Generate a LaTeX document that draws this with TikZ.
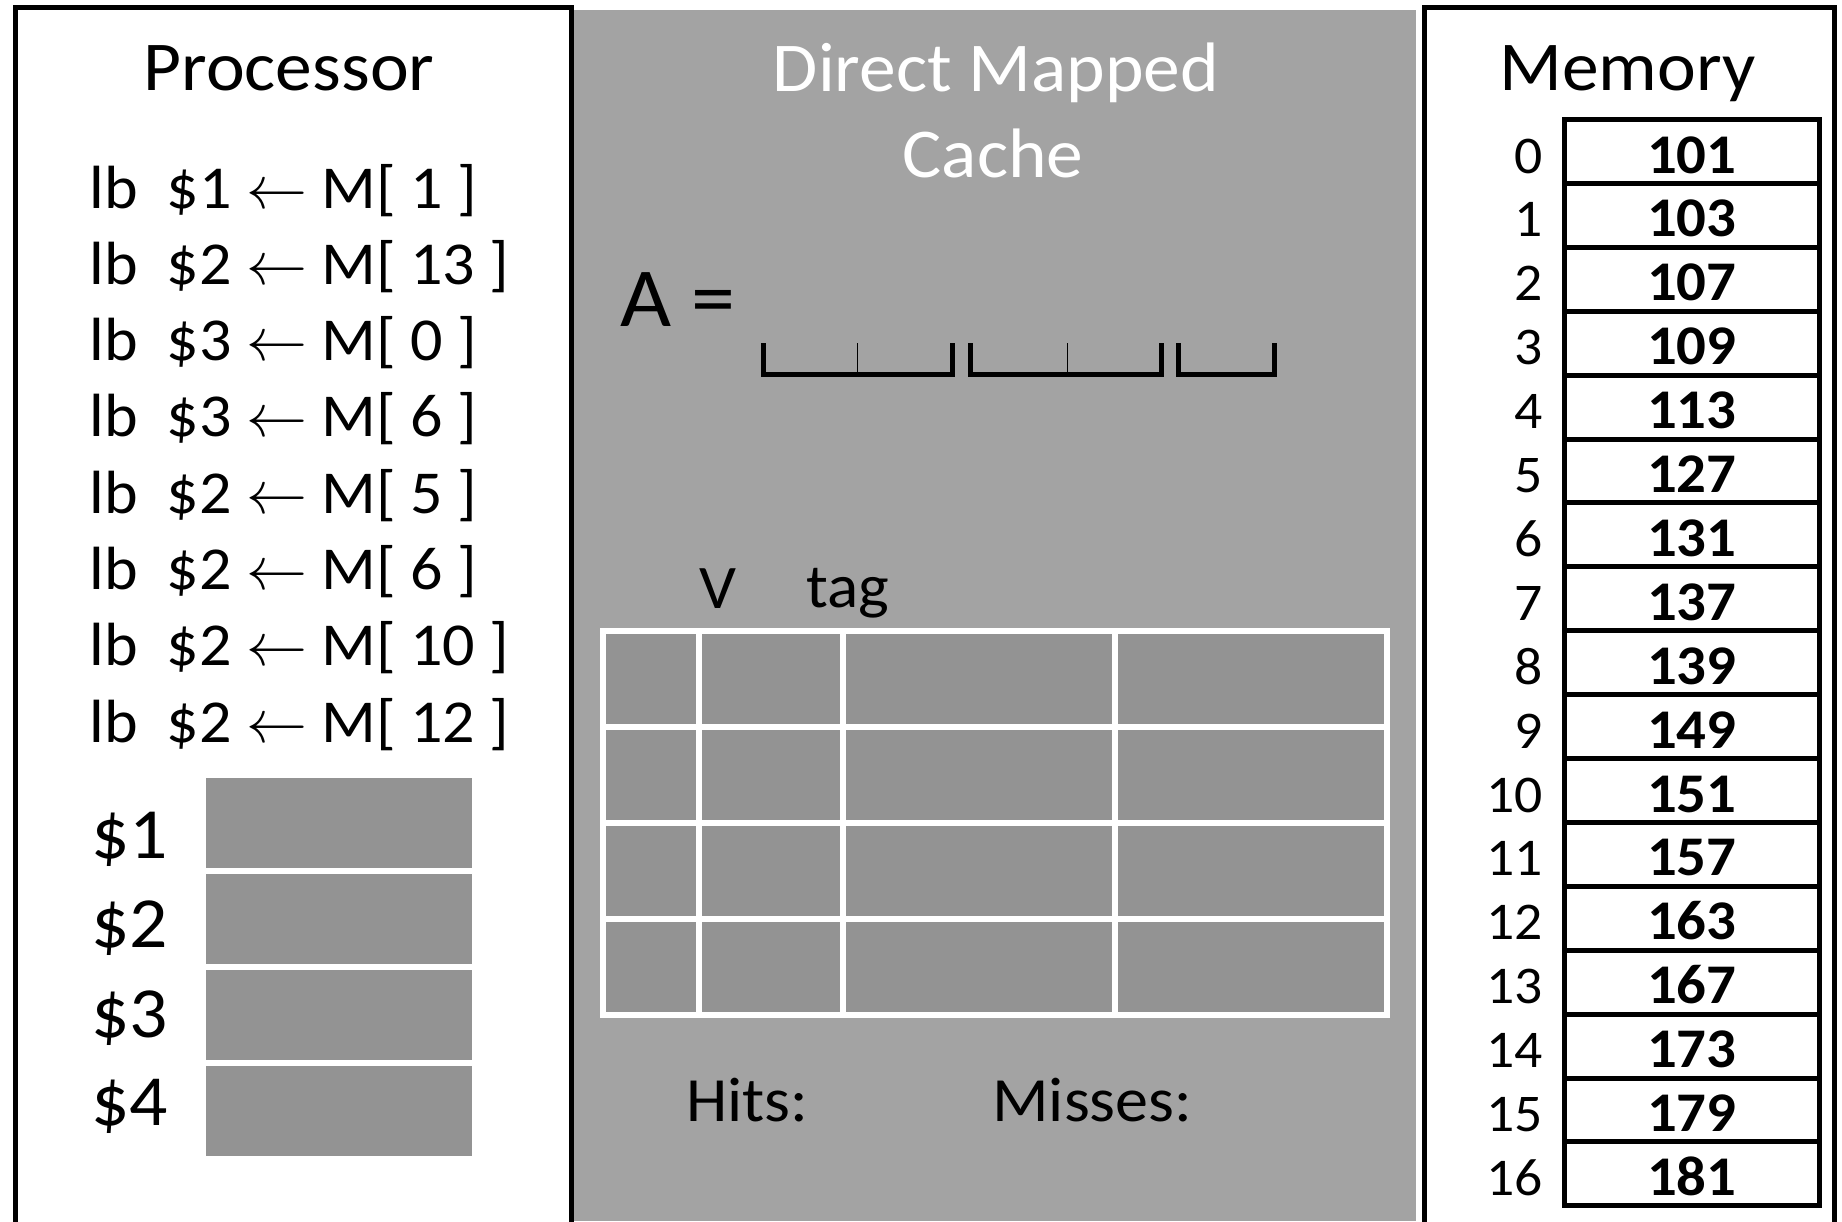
\RequirePackage{fix-cm}
\documentclass[tikz,border=0pt]{standalone}
\usepackage{fontspec}
\setmainfont{Carlito}[FakeStretch=1.05]
\definecolor{panelgray}{HTML}{A3A3A3}
\definecolor{cellgray}{HTML}{939393}

\begin{document}
\begin{tikzpicture}[x=0.5pt,y=-0.5pt,
  frame/.style={line width=2.5pt},
  heading/.style={anchor=base,inner sep=0pt,font=\fontsize{35}{42}\selectfont},
  insn/.style={anchor=base west,inner sep=0pt,font=\fontsize{30.5}{37}\selectfont},
  reglabel/.style={anchor=base west,inner sep=0pt,font=\fontsize{36}{43}\selectfont},
  fieldlabel/.style={anchor=base,inner sep=0pt,font=\fontsize{31}{37}\selectfont},
  countlabel/.style={anchor=base west,inner sep=0pt,font=\fontsize{31.5}{38}\selectfont},
  memidx/.style={anchor=base east,inner sep=0pt,font=\fontsize{26.5}{32}\selectfont},
  memcell/.style={draw,line width=2.5pt,minimum width=127.75pt,minimum height=31.95pt,
    inner sep=0pt,text height=21.6pt,text depth=0pt,font=\fontsize{28}{34}\selectfont\bfseries}]
\useasboundingbox (0,0) rectangle (1842,1221);
\fill[white] (0,0) rectangle (1842,1221);
% Drawing panels
\fill[panelgray] (573.5,10) rectangle (1416,1221);
\draw[frame] (15.3,7.5) rectangle (571,1224);
\draw[frame] (1424.5,7) rectangle (1834.5,1224);
% Processor: program and registers
\draw (289,90) node[heading] (proc) {Processor};
\draw (89,208.0) node[insn] (ins1) {lb~~\$1 $\leftarrow$ M[ 1 ]};
\draw (89,284.3) node[insn] (ins2) {lb~~\$2 $\leftarrow$ M[ 13 ]};
\draw (89,360.6) node[insn] (ins3) {lb~~\$3 $\leftarrow$ M[ 0 ]};
\draw (89,436.9) node[insn] (ins4) {lb~~\$3 $\leftarrow$ M[ 6 ]};
\draw (89,513.2) node[insn] (ins5) {lb~~\$2 $\leftarrow$ M[ 5 ]};
\draw (89,589.5) node[insn] (ins6) {lb~~\$2 $\leftarrow$ M[ 6 ]};
\draw (89,665.8) node[insn] (ins7) {lb~~\$2 $\leftarrow$ M[ 10 ]};
\draw (89,742.1) node[insn] (ins8) {lb~~\$2 $\leftarrow$ M[ 12 ]};
\fill[cellgray] (206,778) rectangle (472,868);
\fill[cellgray] (206,874) rectangle (472,964);
\fill[cellgray] (206,970) rectangle (472,1060);
\fill[cellgray] (206,1066) rectangle (472,1156);
\draw (91,858) node[reglabel] (reg1) {\$1};
\draw (91,947) node[reglabel] (reg2) {\$2};
\draw (91,1037) node[reglabel] (reg3) {\$3};
\draw (91,1125) node[reglabel] (reg4) {\$4};
% Cache: address split, lines, counters
\draw (996,91) node[heading,text=white] (cachetop) {Direct Mapped};
\draw (993,177) node[heading,text=white] (cachebot) {Cache};
\draw (620,326) node[anchor=base west,inner sep=0pt,font=\fontsize{42}{50}\selectfont] (addr) {A =};
\draw[frame] (763.5,343) -- (763.5,374.5) -- (952.5,374.5) -- (952.5,343);
\draw[frame] (970.5,343) -- (970.5,374.5) -- (1161.5,374.5) -- (1161.5,343);
\draw[frame] (1178.5,343) -- (1178.5,374.5) -- (1274.5,374.5) -- (1274.5,343);
\draw[line width=0.5pt] (857,343) -- (857,372);
\draw[line width=0.5pt] (1067,343) -- (1067,372);
\draw (717.5,608) node[fieldlabel] (vbit) {V};
\draw (847.5,607) node[fieldlabel] (tag) {tag};
\fill[cellgray] (603,631) rectangle (1387,1014.5);
\draw[white,line width=3pt] (603,631) rectangle (1387,1014.5);
\draw[white,line width=3pt] (699,631) -- (699,1014.5);
\draw[white,line width=3pt] (843,631) -- (843,1014.5);
\draw[white,line width=3pt] (1115,631) -- (1115,1014.5);
\draw[white,line width=3pt] (603,727) -- (1387,727);
\draw[white,line width=3pt] (603,823) -- (1387,823);
\draw[white,line width=3pt] (603,919) -- (1387,919);
\draw (686,1121) node[countlabel] (hits) {Hits:};
\draw (992,1121) node[countlabel] (misses) {Misses:};
% Memory: addresses and contents
\draw (1627.5,90) node[heading] (mem) {Memory};
\draw (1691.75,151.45) node[memcell] (m0) {101};
\draw (1691.75,215.35) node[memcell] (m1) {103};
\draw (1691.75,279.25) node[memcell] (m2) {107};
\draw (1691.75,343.15) node[memcell] (m3) {109};
\draw (1691.75,407.05) node[memcell] (m4) {113};
\draw (1691.75,470.95) node[memcell] (m5) {127};
\draw (1691.75,534.85) node[memcell] (m6) {131};
\draw (1691.75,598.75) node[memcell] (m7) {137};
\draw (1691.75,662.65) node[memcell] (m8) {139};
\draw (1691.75,726.55) node[memcell] (m9) {149};
\draw (1691.75,790.45) node[memcell] (m10) {151};
\draw (1691.75,854.35) node[memcell] (m11) {157};
\draw (1691.75,918.25) node[memcell] (m12) {163};
\draw (1691.75,982.15) node[memcell] (m13) {167};
\draw (1691.75,1046.05) node[memcell] (m14) {173};
\draw (1691.75,1109.95) node[memcell] (m15) {179};
\draw (1691.75,1173.85) node[memcell] (m16) {181};
\draw (1543,173.0) node[memidx] (a0) {0};
\draw (1543,236.9) node[memidx] (a1) {1};
\draw (1543,300.8) node[memidx] (a2) {2};
\draw (1543,364.7) node[memidx] (a3) {3};
\draw (1543,428.6) node[memidx] (a4) {4};
\draw (1543,492.5) node[memidx] (a5) {5};
\draw (1543,556.4) node[memidx] (a6) {6};
\draw (1543,620.3) node[memidx] (a7) {7};
\draw (1543,684.2) node[memidx] (a8) {8};
\draw (1543,748.1) node[memidx] (a9) {9};
\draw (1543,812.0) node[memidx] (a10) {10};
\draw (1543,875.9) node[memidx] (a11) {11};
\draw (1543,939.8) node[memidx] (a12) {12};
\draw (1543,1003.7) node[memidx] (a13) {13};
\draw (1543,1067.6) node[memidx] (a14) {14};
\draw (1543,1131.5) node[memidx] (a15) {15};
\draw (1543,1195.4) node[memidx] (a16) {16};
% Done
\end{tikzpicture}
\end{document}
